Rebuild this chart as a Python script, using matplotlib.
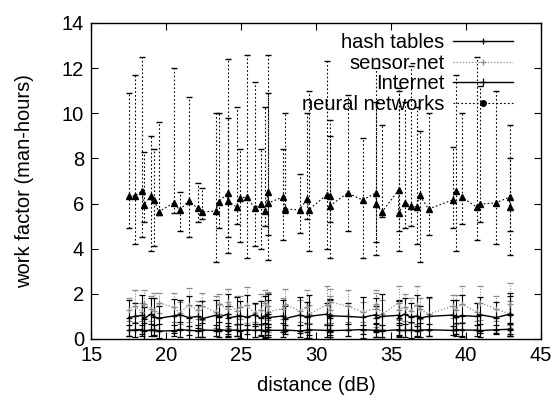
import matplotlib
matplotlib.use("Agg")
import matplotlib.pyplot as plt
from matplotlib.lines import Line2D

plt.rcParams['font.family'] = ['Liberation Sans', 'DejaVu Sans']

# shared x positions (dB)
distance = [17.5, 17.9, 18.4, 18.5, 19.0, 19.2, 19.5, 20.5, 20.9, 21.5, 22.1, 22.4, 23.3,
            23.5, 24.1, 24.1, 24.7, 24.9, 25.4, 25.9, 26.3, 26.6, 26.8, 26.8, 27.8, 27.9,
            28.9, 29.4, 29.5, 30.7, 30.9, 30.9, 32.1, 33.1, 34.0, 34.0, 34.4, 35.5, 35.5,
            35.9, 36.3, 36.7, 36.9, 37.5, 39.1, 39.3, 39.7, 40.7, 40.9, 42.0, 42.9, 42.9]

neural_y = [6.34, 6.34, 6.56, 5.94, 6.34, 6.16, 5.63, 6.03, 5.72, 6.11, 5.80, 5.63, 5.67,
            6.07, 6.47, 6.11, 5.85, 6.25, 6.29, 5.80, 5.98, 5.67, 6.51, 6.03, 6.29, 5.76,
            5.72, 6.20, 5.72, 6.38, 6.34, 5.89, 6.47, 6.16, 6.47, 5.98, 5.63, 6.60, 5.58,
            6.03, 5.89, 5.85, 6.38, 5.76, 6.16, 6.56, 6.29, 5.85, 5.98, 6.03, 6.29, 5.85]
neural_hi = [10.9, 11.7, 12.5, 8.3, 9.0, 8.4, 9.6, 12.0, 6.5, 10.7, 6.9, 6.7, 10.0,
             10.0, 9.8, 12.4, 10.3, 8.4, 12.6, 11.4, 8.4, 10.3, 10.9, 12.6, 8.4, 10.0,
             7.3, 10.0, 11.0, 12.3, 9.7, 9.0, 10.8, 8.9, 10.5, 12.0, 9.5, 11.0, 11.1,
             10.5, 12.1, 10.3, 9.2, 10.0, 8.5, 11.7, 10.0, 12.5, 11.2, 11.0, 9.5, 8.0]
neural_lo = [4.9, 4.2, 4.5, 5.2, 3.9, 4.1, 5.5, 5.6, 4.8, 4.5, 5.2, 5.3, 3.4,
             4.9, 3.8, 4.5, 5.1, 4.3, 3.6, 4.1, 4.0, 5.0, 3.5, 4.6, 4.4, 5.6,
             4.7, 5.3, 3.9, 4.0, 5.2, 3.6, 4.8, 3.6, 4.3, 3.7, 5.4, 4.8, 3.9,
             4.9, 5.0, 4.2, 3.4, 4.6, 4.9, 3.9, 5.1, 4.4, 5.2, 4.2, 3.7, 4.8]

hash_y = [0.38, 0.40, 0.42, 0.36, 0.40, 0.38, 0.35, 0.37, 0.41, 0.39, 0.36, 0.40, 0.38,
          0.42, 0.37, 0.40, 0.39, 0.36, 0.41, 0.38, 0.40, 0.37, 0.42, 0.39, 0.38, 0.40,
          0.36, 0.39, 0.41, 0.38, 0.40, 0.37, 0.39, 0.42, 0.38, 0.40, 0.36, 0.41, 0.39,
          0.38, 0.40, 0.37, 0.39, 0.41, 0.38, 0.42, 0.40, 0.39, 0.37, 0.41, 0.43, 0.40]
hash_err = [0.25, 0.30, 0.20, 0.35, 0.28, 0.22, 0.30, 0.25, 0.33, 0.20, 0.27, 0.31, 0.24,
            0.35, 0.22, 0.29, 0.26, 0.32, 0.21, 0.30, 0.25, 0.34, 0.23, 0.28, 0.31, 0.20,
            0.27, 0.33, 0.24, 0.30, 0.22, 0.35, 0.26, 0.21, 0.29, 0.32, 0.25, 0.30, 0.23,
            0.27, 0.34, 0.22, 0.31, 0.26, 0.20, 0.29, 0.33, 0.24, 0.28, 0.21, 0.30, 0.25]

internet_y = [0.95, 1.00, 1.05, 0.90, 1.10, 0.98, 0.92, 1.02, 1.08, 0.95, 1.00, 0.90, 1.05,
              0.97, 1.10, 0.93, 1.00, 1.04, 0.96, 1.08, 0.92, 1.00, 1.12, 0.95, 1.02, 0.90,
              1.06, 0.98, 1.00, 1.10, 0.94, 1.03, 1.00, 0.96, 1.08, 0.92, 1.00, 1.05, 0.95,
              1.10, 0.98, 1.02, 0.93, 1.00, 1.06, 0.97, 1.04, 1.00, 1.08, 0.95, 1.10, 1.05]
internet_err = [0.80, 0.60, 0.90, 0.50, 0.70, 0.85, 0.55, 0.75, 0.65, 0.95, 0.50, 0.80, 0.70,
                0.60, 0.90, 0.55, 0.85, 0.65, 1.00, 0.50, 0.75, 0.90, 0.60, 1.05, 0.70, 0.55,
                0.80, 0.65, 0.95, 0.50, 0.85, 0.70, 0.60, 0.90, 0.75, 0.55, 1.00, 0.65, 0.80,
                0.70, 0.60, 0.95, 0.55, 0.85, 0.65, 0.75, 0.90, 0.60, 0.80, 0.70, 0.95, 0.85]

sensor_y = [1.30, 1.45, 1.20, 1.55, 1.35, 1.25, 1.60, 1.40, 1.15, 1.50, 1.30, 1.45, 1.20,
            1.55, 1.35, 1.65, 1.25, 1.40, 1.50, 1.15, 1.30, 1.60, 1.45, 1.20, 1.35, 1.55,
            1.25, 1.40, 1.10, 1.50, 1.30, 1.65, 1.45, 1.20, 1.35, 1.55, 1.10, 1.60, 1.30,
            1.40, 1.25, 1.50, 1.35, 1.10, 1.45, 1.30, 1.55, 1.20, 1.60, 1.35, 1.10, 1.55]
sensor_err = [0.50, 0.70, 0.40, 0.60, 0.55, 0.80, 0.45, 0.65, 0.50, 0.75, 0.40, 0.60, 0.70,
              0.45, 0.85, 0.55, 0.65, 0.50, 0.80, 0.40, 0.70, 0.55, 0.60, 0.90, 0.45, 0.65,
              0.50, 0.75, 0.40, 0.85, 0.60, 0.55, 0.70, 0.45, 0.80, 0.50, 0.65, 0.75, 0.40,
              0.60, 0.55, 0.85, 0.45, 0.70, 0.50, 0.65, 0.80, 0.40, 0.75, 0.55, 0.60, 0.95]

labels = ["hash tables", "sensor-net", "Internet", "neural networks"]

FS = 14.5
DOT = (0, (1, 1.5))
NNDOT = (0, (1.5, 2))


def style_bars(container, ls, lw):
    for coll in container[2]:
        coll.set_linestyle(ls)
        coll.set_linewidth(lw)


fig = plt.figure(figsize=(5.56, 4.0), dpi=100)
ax = fig.add_axes([0.164, 0.1525, 0.809, 0.79])

ax.errorbar(distance, hash_y, yerr=hash_err, color="black", lw=1.0, marker="+",
            ms=5, mew=0.9, capsize=2.5, elinewidth=0.8)
c2 = ax.errorbar(distance, sensor_y, yerr=sensor_err, color="#8a8a8a", lw=0.9, ls=DOT,
                 marker="+", ms=5, mew=0.9, capsize=2.5, elinewidth=0.8)
style_bars(c2, DOT, 0.8)
ax.errorbar(distance, internet_y, yerr=internet_err, color="black", lw=1.0, marker="+",
            ms=5, mew=0.9, capsize=2.5, elinewidth=0.8)
nn_err = [[y - lo for y, lo in zip(neural_y, neural_lo)],
          [hi - y for y, hi in zip(neural_y, neural_hi)]]
c4 = ax.errorbar(distance, neural_y, yerr=nn_err, color="black", lw=0.8, ls=NNDOT,
                 marker="^", ms=5, capsize=2.0, elinewidth=0.8)
style_bars(c4, NNDOT, 0.8)

ax.set_xlim(15, 45)
ax.set_ylim(0, 14)
ax.set_xticks(range(15, 46, 5))
ax.set_yticks(range(0, 15, 2))
ax.tick_params(direction="in", top=True, right=True, labelsize=FS, length=5, width=0.8, pad=5)
for s in ax.spines.values():
    s.set_linewidth(1.0)
ax.set_xlabel("distance (dB)", fontsize=FS, labelpad=8)
ax.set_ylabel("work factor (man-hours)", fontsize=FS, labelpad=20)

handles = [
    Line2D([], [], color="black", lw=1.0, marker="+", ms=5, mew=0.9),
    Line2D([], [], color="#8a8a8a", lw=0.9, ls=DOT, marker="+", ms=5, mew=0.9),
    Line2D([], [], color="black", lw=1.0, marker="+", ms=6, mew=0.9),
    Line2D([], [], color="black", lw=0.8, ls=NNDOT, marker="o", ms=4),
]
ax.legend(handles, labels, loc="upper right", frameon=False, markerfirst=False, fontsize=FS,
          handlelength=3.0, handletextpad=0.4, labelspacing=0.08,
          borderaxespad=0.3, borderpad=0.2, bbox_to_anchor=(0.96, 1.0))

fig.savefig("out.png", dpi=100)
